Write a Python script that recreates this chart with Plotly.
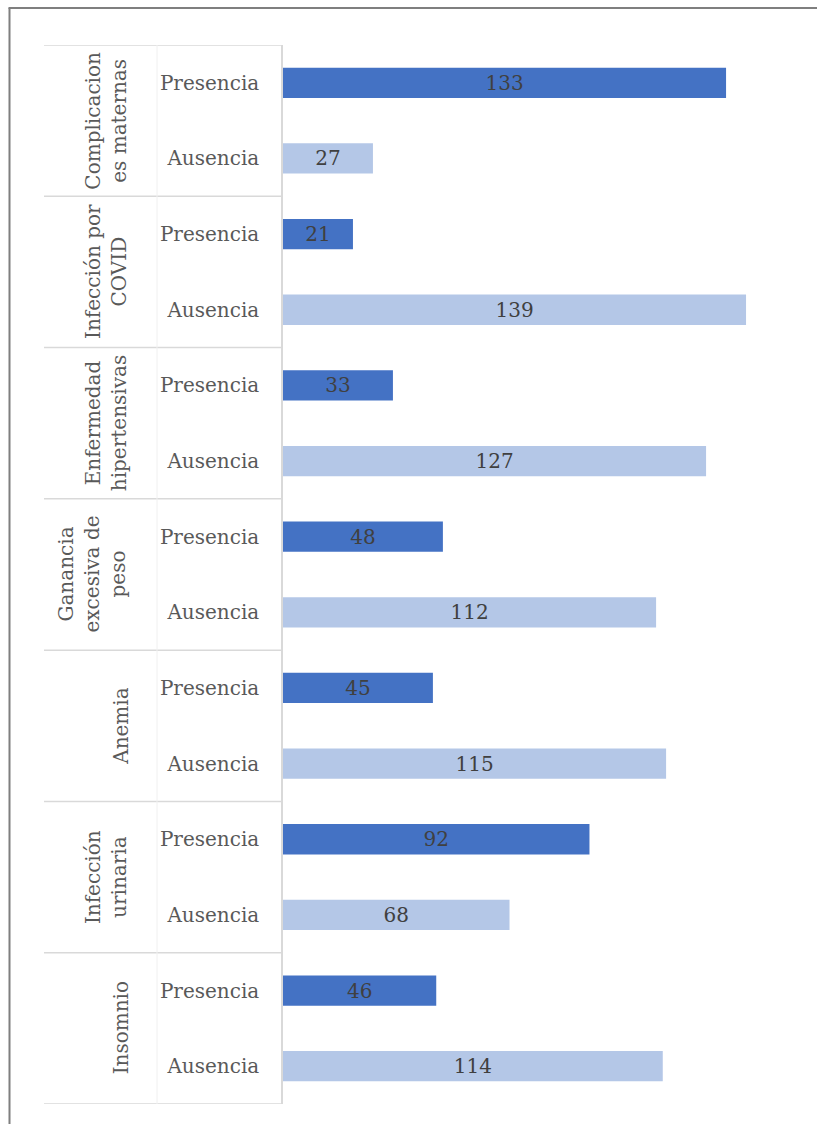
import plotly.graph_objects as go

groups = ["Complicaciones maternas", "Infección por COVID", "Enfermedad hipertensivas",
          "Ganancia excesiva de peso", "Anemia", "Infección urinaria", "Insomnio"]
group_labels = ["Complicacion<br>es maternas", "Infección por<br>COVID", "Enfermedad<br>hipertensivas",
                "Ganancia<br>excesiva de<br>peso", "Anemia", "Infección<br>urinaria", "Insomnio"]
sub_labels = ["Presencia", "Ausencia"]
presencia = [133, 21, 33, 48, 45, 92, 46]
ausencia = [27, 139, 127, 112, 115, 68, 114]

FONT = "DejaVu Serif"
W, H = 817, 1124
ML, MR, MT, MB = 283, 1, 45, 20
PW = W - ML - MR
PH = H - MT - MB

def px_x(p):
    return (p - ML) / PW

def px_y(p):
    return (H - MB - p) / PH

n = len(groups)
y_pres = [2 * i for i in range(n)]
y_aus = [2 * i + 1 for i in range(n)]

fig = go.Figure()
fig.add_trace(go.Bar(
    x=presencia, y=y_pres, orientation="h", width=0.4, name="Presencia",
    marker=dict(color="#4472C4", line=dict(width=0)),
    text=presencia, textposition="inside", insidetextanchor="middle",
    textfont=dict(family=FONT, size=20, color="#404040"), constraintext="none",
))
fig.add_trace(go.Bar(
    x=ausencia, y=y_aus, orientation="h", width=0.4, name="Ausencia",
    marker=dict(color="#B4C7E7", line=dict(width=0)),
    text=ausencia, textposition="inside", insidetextanchor="middle",
    textfont=dict(family=FONT, size=20, color="#404040"), constraintext="none",
))

shapes = []
line_col = "#D9D9D9"
# horizontal separators of the category table
for i in range(n + 1):
    shapes.append(dict(type="line", xref="paper", yref="y",
                       x0=px_x(44), x1=0, y0=2 * i - 0.5, y1=2 * i - 0.5,
                       line=dict(color=line_col, width=1.5)))
# vertical divider between group column and sub-label column (very faint)
shapes.append(dict(type="line", xref="paper", yref="y",
                   x0=px_x(157), x1=px_x(157), y0=-0.5, y1=2 * n - 0.5,
                   line=dict(color="#F0F0F0", width=1)))
# outer frame (left and top)
shapes.append(dict(type="line", xref="paper", yref="paper",
                   x0=px_x(9.5), x1=px_x(9.5), y0=px_y(8), y1=px_y(1130),
                   line=dict(color="#7F7F7F", width=2)))
shapes.append(dict(type="line", xref="paper", yref="paper",
                   x0=px_x(8.5), x1=px_x(830), y0=px_y(8), y1=px_y(8),
                   line=dict(color="#7F7F7F", width=2)))

annotations = []
for i, lab in enumerate(group_labels):
    nl = lab.count("<br>") + 1
    cx = 121 - (nl - 1) * 15
    annotations.append(dict(
        text=lab, xref="paper", yref="y", x=px_x(cx), y=2 * i + 0.5,
        textangle=-90, showarrow=False, xanchor="center", yanchor="middle",
        font=dict(family=FONT, size=20, color="#595959"), align="center",
    ))

fig.update_layout(
    width=W, height=H,
    margin=dict(l=ML, r=MR, t=MT, b=MB, pad=0),
    paper_bgcolor="white", plot_bgcolor="white",
    barmode="overlay", showlegend=False,
    shapes=shapes, annotations=annotations,
    xaxis=dict(range=[0, 160], visible=False, fixedrange=True),
    yaxis=dict(
        range=[2 * n - 0.5, -0.5], tickmode="array",
        tickvals=list(range(2 * n)), ticktext=sub_labels * n,
        tickfont=dict(family=FONT, size=20, color="#595959"),
        ticks="", ticklabelstandoff=18, showgrid=False, zeroline=False,
        showline=True, linecolor=line_col, linewidth=1.5,
    ),
)

fig.write_html("out.html")
